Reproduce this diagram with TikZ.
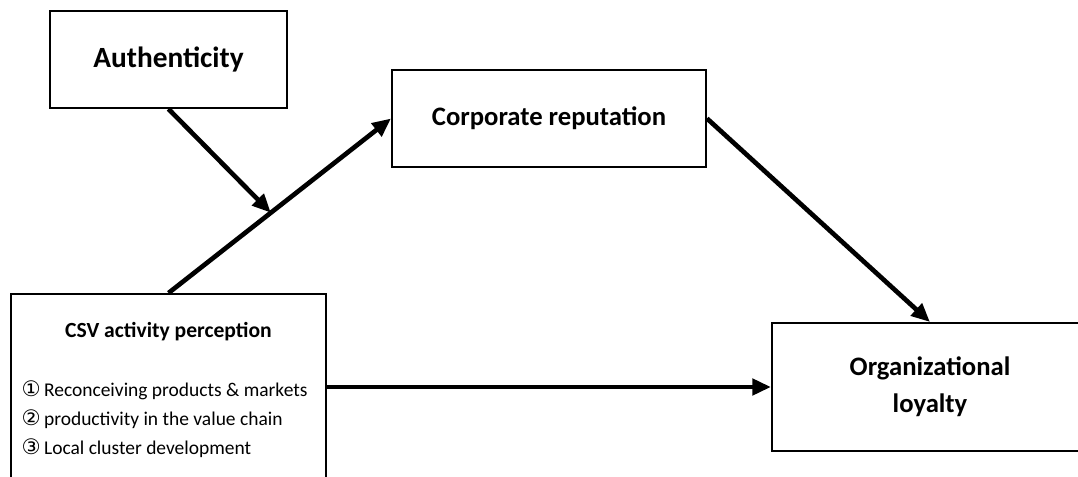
\documentclass[tikz,border=0pt]{standalone}
\usepackage{fontspec}
\setmainfont{Carlito}
\newfontfamily\circfont{DejaVu Sans}
\usetikzlibrary{arrows.meta}
\newcommand{\circnum}[1]{{\circfont\fontsize{16pt}{16pt}\selectfont #1}}

\begin{document}
\begin{tikzpicture}[x=0.75pt,y=-0.75pt,
		varbox/.style={draw,line width=1.5pt,inner sep=0pt},
		conn/.style={line width=3.5pt,-{Triangle[length=14pt,width=12pt]}},
		bigtext/.style={font=\bfseries\fontsize{20pt}{27.75pt}\selectfont},
		smalltext/.style={font=\fontsize{14.6pt}{21.6pt}\selectfont}]

		\useasboundingbox (0,0) rectangle (1078,477);
		\clip (0,0) rectangle (1078,477);

		\node[varbox,minimum width=177.75pt,minimum height=72.75pt] (auth) at (168.5,59.5){};
		\node[bigtext,font=\bfseries\fontsize{22pt}{27pt}\selectfont] (authtext) at (auth.center){Authenticity};

		\node[varbox,minimum width=235.5pt,minimum height=72.75pt] (corp) at (549,118.5){};
		\node[bigtext] (corptext) at (corp.center){Corporate reputation};

		\node[varbox,minimum width=236.25pt,minimum height=139.5pt] (csv) at (168.5,387){};
		\node[bigtext,font=\bfseries\fontsize{16.2pt}{22pt}\selectfont] (csvtitle) at (168.5,332){CSV activity perception};
		\node[smalltext,align=left,anchor=west] (csvlist) at (17,419){\circnum{①}\,Reconceiving products \& markets\\\circnum{②}\,productivity in the value chain\\\circnum{③}\,Local cluster development};

		\node[varbox,minimum width=237pt,minimum height=96pt] (org) at (930,387){};
		\node[bigtext,align=center] (orgtext) at (org.center){Organizational\\loyalty};

		\draw[conn] (csv.north) -- (corp.west) coordinate[pos=0.46] (mod);
		\draw[conn] (auth.south) -- (mod);
		\draw[conn] (corp.east) -- (org.north);
		\draw[conn] (csv.east) -- (org.west);
	\end{tikzpicture}
\end{document}
